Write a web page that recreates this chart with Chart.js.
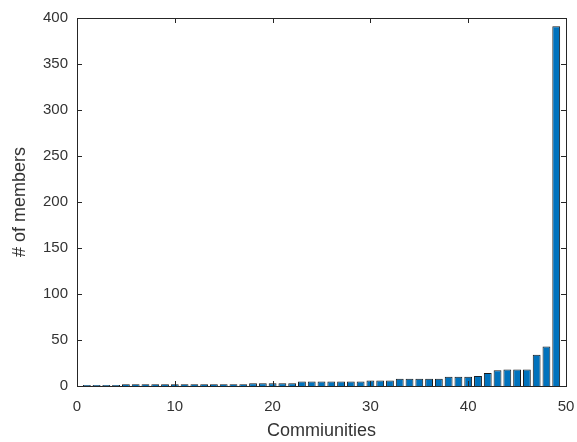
<!DOCTYPE html>
<html>
<head>
<meta charset="utf-8">
<script src="https://cdn.jsdelivr.net/npm/chart.js@4"></script>
<style>
  html, body { margin: 0; padding: 0; background: #fff; }
  #wrap { width: 577px; height: 442px; }
</style>
</head>
<body>
<div id="wrap"><canvas id="membersChart"></canvas></div>
<script>
// community index (x) and community size (y), sorted ascending
const communities = [1, 2, 3, 4, 5, 6, 7, 8, 9, 10, 11, 12, 13, 14, 15, 16, 17, 18, 19, 20,
  21, 22, 23, 24, 25, 26, 27, 28, 29, 30, 31, 32, 33, 34, 35, 36, 37, 38, 39, 40,
  41, 42, 43, 44, 45, 46, 47, 48, 49];
const members = [1, 1, 1, 1, 2, 2, 2, 2, 2, 2, 2, 2, 2, 2, 2, 2, 2, 3, 3, 3,
  3, 3, 5, 5, 5, 5, 5, 5, 5, 6, 6, 6, 8, 8, 8, 8, 8, 10, 10, 10,
  11, 14, 17, 18, 18, 18, 34, 43, 391];
const xTicks = [0, 10, 20, 30, 40, 50];
const yTicks = [0, 50, 100, 150, 200, 250, 300, 350, 400];

document.addEventListener('DOMContentLoaded', function () {
  const textColor = '#333333';

  // MATLAB style box with inward ticks on all four sides
  const boxPlugin = {
    id: 'matlabBox',
    afterDraw(chart) {
      const { ctx, chartArea: a, scales } = chart;
      const tl = 5;
      ctx.save();
      ctx.strokeStyle = '#262626';
      ctx.lineWidth = 1;
      ctx.beginPath();
      xTicks.forEach(v => {
        const px = Math.round(scales.x.getPixelForValue(v)) + 0.5;
        ctx.moveTo(px, a.bottom); ctx.lineTo(px, a.bottom - tl);
        ctx.moveTo(px, a.top); ctx.lineTo(px, a.top + tl);
      });
      yTicks.forEach(v => {
        const py = Math.round(scales.y.getPixelForValue(v)) + 0.5;
        ctx.moveTo(a.left, py); ctx.lineTo(a.left + tl, py);
        ctx.moveTo(a.right, py); ctx.lineTo(a.right - tl, py);
      });
      ctx.stroke();
      ctx.strokeRect(Math.round(a.left) + 0.5, Math.round(a.top) + 0.5,
        Math.round(a.right - a.left), Math.round(a.bottom - a.top));
      ctx.restore();
    }
  };

  const ctx = document.getElementById('membersChart').getContext('2d');
  new Chart(ctx, {
    type: 'bar',
    data: {
      datasets: [{
        data: communities.map((c, i) => ({ x: c, y: members[i] })),
        backgroundColor: '#0072BD',
        borderColor: '#1a1a1a',
        borderWidth: 1,
        barPercentage: 0.8,
        categoryPercentage: 1.0
      }]
    },
    options: {
      responsive: true,
      maintainAspectRatio: false,
      animation: false,
      layout: { padding: { top: 18, right: 11, left: 0, bottom: 0 } },
      plugins: {
        legend: { display: false },
        tooltip: { enabled: false }
      },
      scales: {
        x: {
          type: 'linear',
          min: 0,
          max: 50,
          offset: false,
          afterFit(scale) {
            scale.height = 56;
            scale.paddingLeft = 0;
            scale.paddingRight = 0;
          },
          afterBuildTicks(scale) { scale.ticks = xTicks.map(v => ({ value: v })); },
          grid: { display: false, drawTicks: false, tickLength: 0, offset: false },
          border: { display: false },
          ticks: { color: textColor, font: { family: 'Liberation Sans', size: 15 }, padding: 12, maxRotation: 0 },
          title: {
            display: true,
            text: 'Commiunities',
            color: textColor,
            font: { family: 'Liberation Sans', size: 18 },
            padding: { top: 0, bottom: 0 }
          }
        },
        y: {
          min: 0,
          max: 400,
          afterFit(scale) {
            scale.width = 77;
            scale.paddingTop = 0;
            scale.paddingBottom = 0;
          },
          afterBuildTicks(scale) { scale.ticks = yTicks.map(v => ({ value: v })); },
          grid: { display: false, drawTicks: false, tickLength: 0 },
          border: { display: false },
          ticks: { color: textColor, font: { family: 'Liberation Sans', size: 15 }, padding: 9 },
          title: {
            display: true,
            text: '# of members',
            color: textColor,
            font: { family: 'Liberation Sans', size: 18 },
            padding: { top: 9, bottom: 0 }
          }
        }
      }
    },
    plugins: [boxPlugin]
  });
});
</script>
</body>
</html>
